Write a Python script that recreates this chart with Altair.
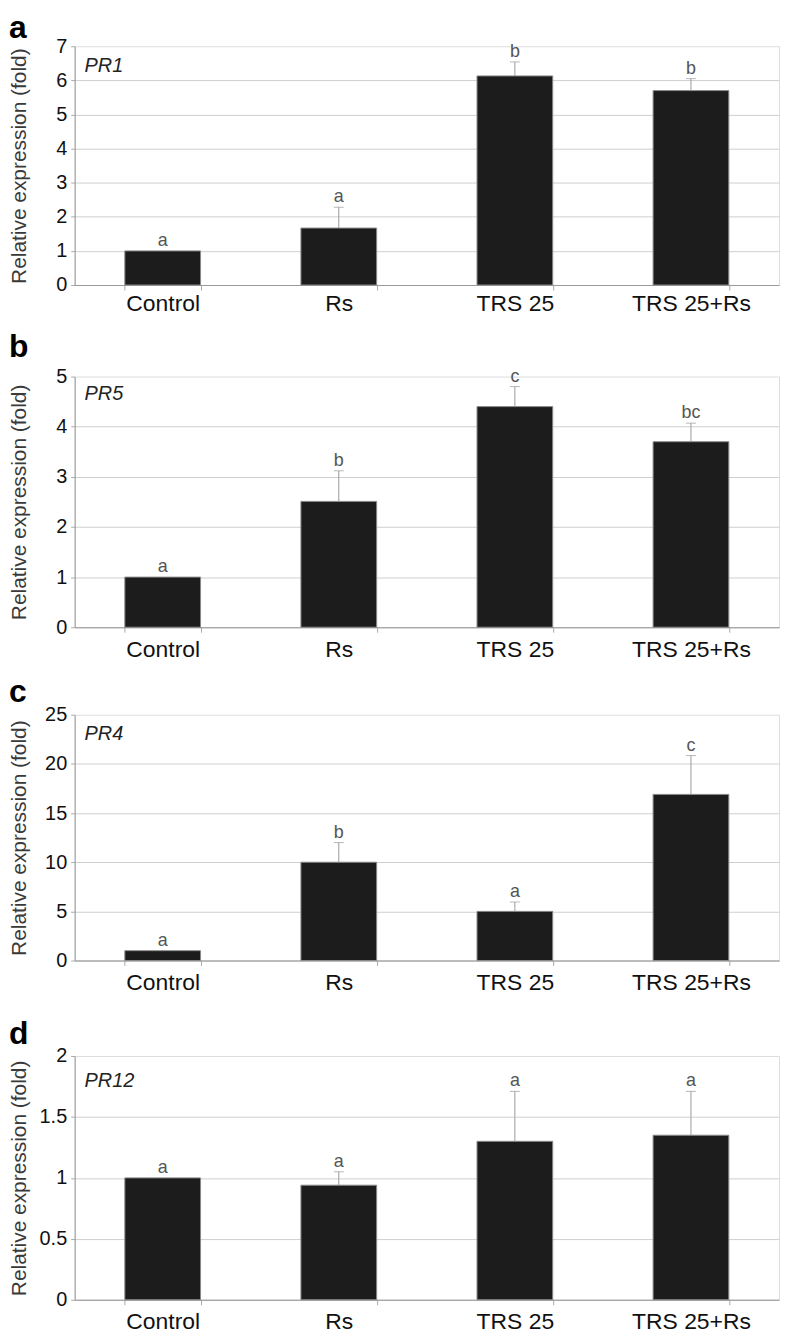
import altair as alt
import pandas as pd

categories = ["Control", "Rs", "TRS 25", "TRS 25+Rs"]
genes = ["PR1", "PR5", "PR4", "PR12"]
panel_letters = ["a", "b", "c", "d"]

pr1_values = [1.0, 1.67, 6.13, 5.70]
pr1_errors = [0.0, 0.61, 0.41, 0.35]
pr1_letters = ["a", "a", "b", "b"]

pr5_values = [1.0, 2.51, 4.40, 3.70]
pr5_errors = [0.0, 0.61, 0.40, 0.37]
pr5_letters = ["a", "b", "c", "bc"]

pr4_values = [1.0, 10.0, 5.0, 16.9]
pr4_errors = [0.0, 2.0, 0.95, 3.95]
pr4_letters = ["a", "b", "a", "c"]

pr12_values = [1.0, 0.94, 1.30, 1.35]
pr12_errors = [0.0, 0.11, 0.41, 0.36]
pr12_letters = ["a", "a", "a", "a"]

y_max = [7, 5, 25, 2]
y_ticks = [
    [0, 1, 2, 3, 4, 5, 6, 7],
    [0, 1, 2, 3, 4, 5],
    [0, 5, 10, 15, 20, 25],
    [0, 0.5, 1, 1.5, 2],
]

FONT = "Liberation Sans"
W = 708
heights = [240, 252, 247, 245]
title_offsets = [-9, 3, -4, -5]
xlabel_pads = [3, 6, 6, 6]
gene_y = [26, 24, 25, 31]


def panel(i, vals, errs, lets):
    df = pd.DataFrame({
        "cat": categories,
        "v": vals,
        "e": errs,
        "top": [v + e for v, e in zip(vals, errs)],
        "lab": lets,
    })
    base = alt.Chart(df)
    xenc = alt.X(
        "cat:N", sort=categories, title=None,
        scale=alt.Scale(paddingInner=0.57, paddingOuter=0.285),
        axis=alt.Axis(labelAngle=0, labelFontSize=23, labelColor="#111",
                      tickBand="extent", tickSize=5, tickColor="#aaa",
                      domainColor="#999", labelPadding=xlabel_pads[i], grid=False,
                      labelFont=FONT),
    )
    yscale = alt.Scale(domain=[0, y_max[i]], nice=False)
    yaxis = alt.Axis(
        values=y_ticks[i], format="~g", title="Relative expression (fold)",
        titleFontSize=21, titleFontWeight="normal", titleColor="#3a3a3a",
        titleFont=FONT, titleX=-45, titleBaseline="bottom",
        labelFontSize=20, labelColor="#111", labelFont=FONT, labelPadding=4,
        tickSize=4, tickColor="#aaa", domainColor="#999",
        gridColor="#cfcfcf",
        gridOpacity=alt.condition(f"datum.value >= {y_max[i]}", alt.value(0), alt.value(1)),
    )
    bars = base.mark_bar(color="#1c1c1c", stroke="#8a8a8a", strokeWidth=1).encode(
        x=xenc, y=alt.Y("v:Q", scale=yscale, axis=yaxis)
    )
    eb = base.transform_filter("datum.e > 0")
    err = eb.mark_rule(color="#9a9a9a", strokeWidth=1).encode(
        x=xenc, y=alt.Y("v:Q", scale=yscale, axis=yaxis), y2="top:Q"
    )
    cap = eb.mark_tick(color="#9a9a9a", size=10, thickness=1, orient="horizontal").encode(
        x=xenc, y=alt.Y("top:Q", scale=yscale, axis=yaxis)
    )
    lab = base.mark_text(fontSize=18, color="#555", baseline="alphabetic", dy=-5, font=FONT).encode(
        x=xenc, y=alt.Y("top:Q", scale=yscale, axis=yaxis), text="lab:N"
    )
    gene = alt.Chart(alt.Data(values=[{"g": genes[i]}])).mark_text(
        fontSize=20, fontStyle="italic", color="#222", align="left",
        baseline="alphabetic", font=FONT
    ).encode(text="g:N", x=alt.value(10), y=alt.value(gene_y[i]))
    return alt.layer(bars, err, cap, lab, gene).properties(
        width=W, height=heights[i],
        title=alt.TitleParams(panel_letters[i], anchor="start", frame="bounds",
                              fontSize=32, fontWeight="bold", font=FONT,
                              color="#000", offset=title_offsets[i]),
    )


upper = alt.vconcat(
    panel(0, pr1_values, pr1_errors, pr1_letters),
    panel(1, pr5_values, pr5_errors, pr5_letters),
    panel(2, pr4_values, pr4_errors, pr4_letters),
    spacing=13,
)
chart = alt.vconcat(
    upper,
    panel(3, pr12_values, pr12_errors, pr12_letters),
    spacing=22,
).properties(
    padding={"left": 0, "top": 0, "right": 0, "bottom": 0}
).configure_view(stroke=None).configure(font=FONT)

chart.save("out.html", embed_options={"renderer": "svg", "actions": False})
